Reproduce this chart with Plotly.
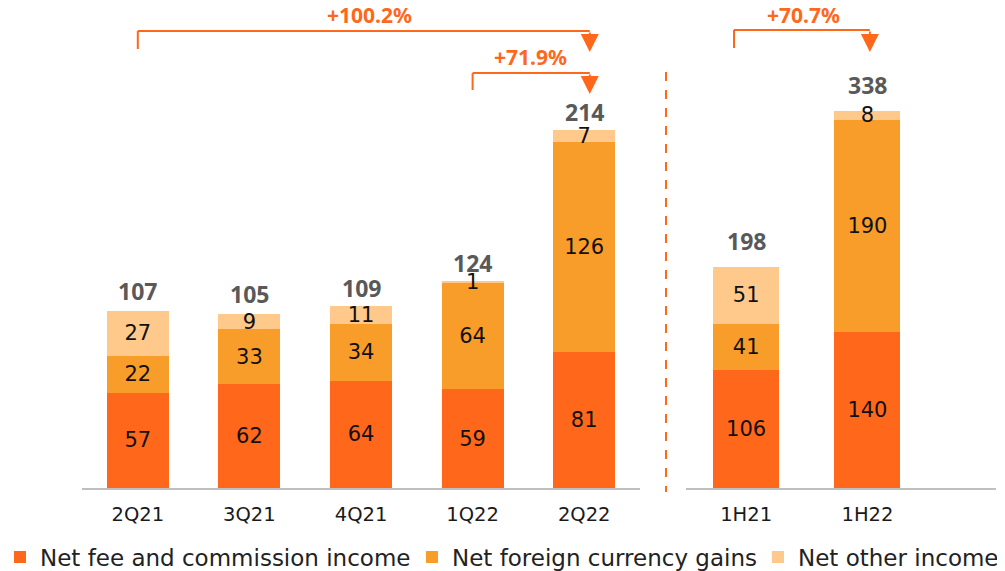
import plotly.graph_objects as go

# Data (EUR m)
quarters = ['2Q21', '3Q21', '4Q21', '1Q22', '2Q22']
fee_q = [57, 62, 64, 59, 81]
fx_q = [22, 33, 34, 64, 126]
other_q = [27, 9, 11, 1, 7]
total_q = [107, 105, 109, 124, 214]

halves = ['1H21', '1H22']
fee_h = [106, 140]
fx_h = [41, 190]
other_h = [51, 8]
total_h = [198, 338]

series_names = ['Net fee and commission income', 'Net foreign currency gains',
                'Net other income']
colors = ['#FF671B', '#F89D29', '#FFC98B']
orange = '#FF671B'
reg_font = 'DejaVu Sans'
bold_font = 'Noto Sans'

W, H = 1005, 571
OFF = 8  # page body margin, positions below are measured on the screenshot


def px_x(x):
    return (x - OFF) / W


def px_y(y):
    return (H - (y - OFF)) / H


legend_ids = ['legend', 'legend2', 'legend3']

fig = go.Figure()

# Stacked bars, quarters (left) and half-years (right)
for name, col, vals, lg in zip(series_names, colors, [fee_q, fx_q, other_q], legend_ids):
    fig.add_trace(go.Bar(x=quarters, y=vals, name=name, marker_color=col,
                         marker_line_width=0, width=0.556,
                         text=vals, textposition='inside', textangle=0,
                         insidetextanchor='middle', constraintext='none',
                         textfont=dict(size=21, color='#111', family=reg_font),
                         legendgroup=name, legend=lg, xaxis='x', yaxis='y'))
for name, col, vals in zip(series_names, colors, [fee_h, fx_h, other_h]):
    fig.add_trace(go.Bar(x=halves, y=vals, name=name, marker_color=col,
                         marker_line_width=0, width=0.545,
                         text=vals, textposition='inside', textangle=0,
                         insidetextanchor='middle', constraintext='none',
                         textfont=dict(size=21, color='#111', family=reg_font),
                         legendgroup=name, showlegend=False,
                         xaxis='x2', yaxis='y2'))


# Totals above bars
def totals(xa, ya, cats, vals, shift):
    for c, v in zip(cats, vals):
        fig.add_annotation(xref=xa, yref=ya, x=c, y=v, yanchor='bottom',
                           yshift=shift, text='<b>%d</b>' % v, showarrow=False,
                           font=dict(size=23, color='#595959', family=bold_font))


totals('x', 'y', quarters, total_q, 0)
totals('x2', 'y2', halves, total_h, 8)


# Growth brackets
def bracket(xa, ya, x0, x1, y_start, y_line, y_tip, label, x_label, y_label):
    fig.add_shape(type='line', xref=xa, yref=ya, x0=x0, x1=x0,
                  y0=y_start, y1=y_line, line=dict(color=orange, width=2))
    fig.add_shape(type='line', xref=xa, yref=ya, x0=x0, x1=x1,
                  y0=y_line, y1=y_line, line=dict(color=orange, width=2))
    fig.add_annotation(xref=xa, yref=ya, axref=xa, ayref=ya,
                       x=x1, y=y_tip, ax=x1, ay=y_line, text='',
                       showarrow=True, arrowhead=2, arrowsize=1.8,
                       arrowwidth=2, arrowcolor=orange, standoff=0)
    fig.add_annotation(xref=xa, yref=ya, x=x_label, y=y_label,
                       text='<b>' + label + '</b>', showarrow=False,
                       font=dict(size=21, color=orange, family=bold_font))


bracket('x', 'y', 0, 4.05, 262.4, 273.2, 260.6, '+100.2%', 2.08, 282.7)
bracket('x', 'y', 3, 4.05, 237.9, 248.0, 235.5, '+71.9%', 3.52, 257.6)
bracket('x2', 'y2', -0.1, 1.02, 394.3, 410.4, 390.7, '+70.7%', 0.47, 423.8)

# Dashed separator
fig.add_shape(type='line', xref='paper', yref='paper', x0=px_x(666), x1=px_x(666),
              y0=px_y(72), y1=px_y(492),
              line=dict(color=orange, width=2, dash='dash'))

axis_common = dict(showgrid=False, zeroline=False, ticks='', showline=True,
                   linecolor='#BFBFBF', linewidth=2, automargin=False,
                   ticklabelstandoff=8,
                   tickfont=dict(size=19.5, color='#1a1a1a', family=reg_font))
legend_common = dict(orientation='h', y=px_y(557), yanchor='middle', xanchor='left',
                     font=dict(size=23, color='#222', family=reg_font),
                     bgcolor='rgba(0,0,0,0)')
base = px_y(488)
fig.update_layout(
    width=W, height=H,
    margin=dict(l=0, r=0, t=0, b=0, autoexpand=False),
    plot_bgcolor='white', paper_bgcolor='white',
    barmode='stack',
    font=dict(family=reg_font, color='#111'),
    xaxis=dict(domain=[px_x(82), px_x(640)], range=[-0.5, 4.5],
               anchor='y', **axis_common),
    xaxis2=dict(domain=[px_x(685.5), px_x(996)], range=[-0.5, 2.06],
                anchor='y2', **axis_common),
    yaxis=dict(domain=[base, 1], range=[0, (488 - OFF) / 1.673], visible=False),
    yaxis2=dict(domain=[base, 1], range=[0, (488 - OFF) / 1.116], visible=False,
                anchor='x2'),
    legend=dict(x=px_x(0), **legend_common),
    legend2=dict(x=px_x(412), **legend_common),
    legend3=dict(x=px_x(758), **legend_common),
    showlegend=True,
)

fig.write_html('out.html')
